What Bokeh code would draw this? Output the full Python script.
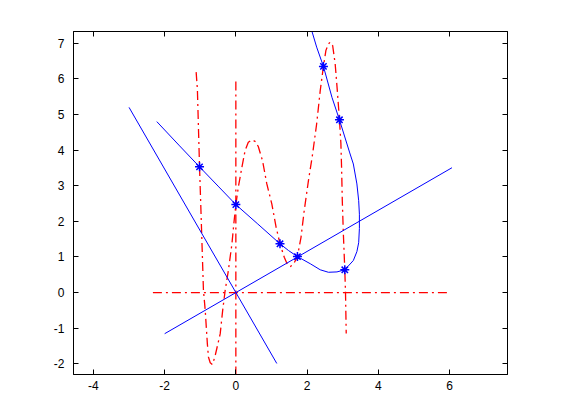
from bokeh.plotting import figure
from bokeh.models import Range1d, LinearAxis, FixedTicker
from bokeh.embed import file_html
from bokeh.resources import INLINE

# ---- data ----
x_ticks = [-4, -2, 0, 2, 4, 6]
y_ticks = [-2, -1, 0, 1, 2, 3, 4, 5, 6, 7]

# data points (stars)
star_x = [-1.02, 0.0, 1.24, 1.73, 3.06, 2.91, 2.46]
star_y = [3.53, 2.47, 1.37, 1.01, 0.64, 4.85, 6.35]

# red dash-dot curve
red_x = [-1.115, -1.08, -1.02, -0.98, -0.91, -0.86, -0.80, -0.77, -0.72, -0.66,
         -0.59, -0.44, -0.37, -0.30, -0.21, -0.11, -0.05, 0.0, 0.07, 0.17,
         0.26, 0.35, 0.45, 0.55, 0.63, 0.75, 0.87, 1.01, 1.13, 1.24,
         1.36, 1.45, 1.53, 1.62, 1.73, 1.83, 1.92, 2.04, 2.15, 2.27,
         2.37, 2.46, 2.53, 2.60, 2.65, 2.72, 2.79, 2.85, 2.91, 2.95,
         2.97, 2.99, 3.02, 3.06, 3.08, 3.10]
red_y = [6.19, 5.70, 3.53, 2.30, 0.06, -0.50, -1.44, -1.81, -1.97, -2.02,
         -1.81, -1.16, -0.50, 0.06, 0.62, 1.37, 2.00, 2.47, 2.96, 3.52,
         3.99, 4.22, 4.29, 4.24, 4.10, 3.70, 3.05, 2.49, 1.84, 1.37,
         0.99, 0.78, 0.73, 0.80, 1.01, 1.55, 2.30, 3.15, 3.85, 4.74,
         5.67, 6.35, 6.80, 6.98, 7.03, 6.93, 6.42, 5.67, 4.85, 4.20,
         3.50, 2.58, 1.65, 0.64, 0.00, -1.15]

# blue smooth curve
blue_x = [-2.22, -1.60, -1.02, -0.50, 0.0, 0.60, 1.24, 1.48, 1.73, 2.09,
          2.37, 2.60, 2.84, 3.06, 3.30, 3.40, 3.45, 3.47, 3.47, 3.45,
          3.40, 3.30, 3.20, 2.91, 2.70, 2.46, 2.27, 2.13, 2.08]
blue_y = [4.80, 4.14, 3.53, 2.99, 2.47, 1.94, 1.37, 1.18, 1.01, 0.81,
          0.64, 0.57, 0.58, 0.64, 0.90, 1.15, 1.40, 1.80, 2.20, 2.58,
          3.05, 3.61, 3.92, 4.85, 5.48, 6.35, 6.89, 7.36, 7.50]

# red axes lines
red_h_x = [-2.33, 5.97]
red_h_y = [0.0, 0.0]
red_v_x = [0.0, 0.0]
red_v_y = [-2.33, 5.97]

# blue rotated axes lines
blue_a_x = [-3.0, 1.15]
blue_a_y = [5.20, -1.99]
blue_b_x = [-2.0, 6.07]
blue_b_y = [-1.155, 3.505]

x_range = (-4.56, 7.63)
y_range = (-2.30, 7.33)

# ---- figure ----
p = figure(width=553, height=412, output_backend="svg", toolbar_location=None,
           x_range=Range1d(*x_range), y_range=Range1d(*y_range),
           min_border_left=73, min_border_right=46, min_border_top=31,
           min_border_bottom=38)
p.background_fill_color = "white"
p.border_fill_color = "white"
p.outline_line_color = "black"
p.xgrid.visible = False
p.ygrid.visible = False

FONT = "Liberation Sans"


def style_axis(ax, ticks, labels=True, standoff=6):
    ax.ticker = FixedTicker(ticks=ticks)
    ax.major_tick_in = 5
    ax.major_tick_out = 0
    ax.minor_tick_line_color = None
    ax.axis_line_color = "black"
    ax.major_tick_line_color = "black"
    ax.major_label_text_font = FONT
    ax.major_label_text_color = "black"
    ax.major_label_standoff = standoff
    ax.major_label_text_font_size = "12px"
    if labels:
        ax.major_label_overrides = {t: str(t) for t in ticks}
    else:
        ax.major_label_overrides = {t: "" for t in ticks}


style_axis(p.xaxis[0], x_ticks, True, 6)
style_axis(p.yaxis[0], y_ticks, True, 9)

top = LinearAxis()
style_axis(top, x_ticks, False, 0)
p.add_layout(top, "above")
right = LinearAxis()
style_axis(right, y_ticks, False, 0)
p.add_layout(right, "right")

RED = "#FF0000"
BLUE = "#0000FF"
DASH = "9 4 2 4"

p.line(red_h_x, red_h_y, line_color=RED, line_width=1.3, line_dash=DASH)
p.line(red_v_x, red_v_y, line_color=RED, line_width=1.3, line_dash=DASH)
p.line(red_x, red_y, line_color=RED, line_width=1.3, line_dash=DASH)

p.line(blue_a_x, blue_a_y, line_color=BLUE, line_width=1)
p.line(blue_b_x, blue_b_y, line_color=BLUE, line_width=1)
p.line(blue_x, blue_y, line_color=BLUE, line_width=1)

p.scatter(star_x, star_y, marker="asterisk", size=9, line_color=BLUE, line_width=1.5)

open("out.html", "w").write(file_html(p, INLINE))
